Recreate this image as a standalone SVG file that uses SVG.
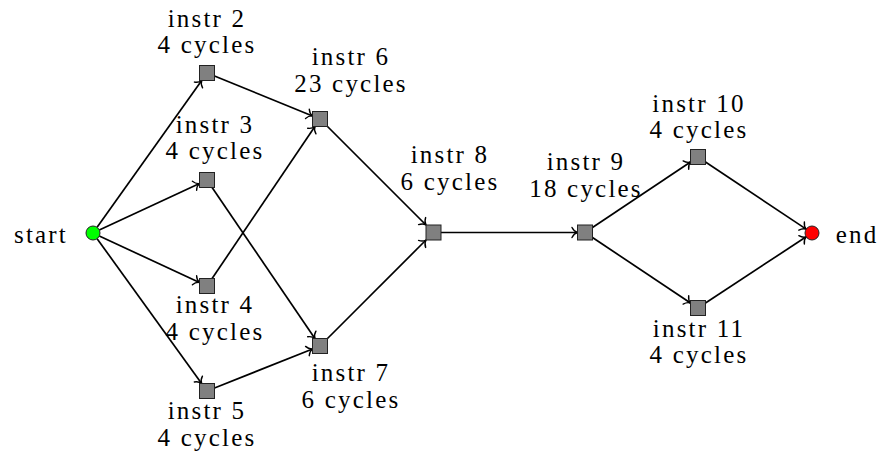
<svg xmlns="http://www.w3.org/2000/svg" width="878" height="455" viewBox="0 0 878 455">
<defs>
<marker id="arr" markerUnits="userSpaceOnUse" markerWidth="12" markerHeight="12" refX="0" refY="0" viewBox="-6 -6 12 12" orient="auto" overflow="visible">
<path d="M -5.5,-5 C -4,-2 -1.5,-0.4 0,0 C -1.5,0.4 -4,2 -5.5,5" fill="none" stroke="#000" stroke-width="1.4" stroke-linecap="round"/>
</marker>
<style>
text{font-family:"Liberation Serif","Times New Roman",serif;font-size:25px;fill:#000;letter-spacing:2.2px;text-anchor:middle}
.sq{fill:#808080;stroke:#222;stroke-width:1}
.cr{stroke:#222;stroke-width:1}
#edges line{stroke:#000;stroke-width:1.7;fill:none;marker-end:url(#arr)}
</style>
</defs>
<rect width="878" height="455" fill="#fff"/>
<g id="edges">
<line x1="97.1" y1="227.3" x2="201.7" y2="80.5"/>
<line x1="99.3" y1="230" x2="199.5" y2="183.5"/>
<line x1="99.3" y1="236" x2="199.5" y2="282.5"/>
<line x1="97.1" y1="238.7" x2="201.6" y2="383.5"/>
<line x1="214.5" y1="76.05" x2="312.5" y2="115.95"/>
<line x1="212.1" y1="187.5" x2="314.9" y2="338.5"/>
<line x1="212.1" y1="278.5" x2="314.9" y2="126.5"/>
<line x1="214.5" y1="388" x2="312.5" y2="349"/>
<line x1="327.5" y1="126.5" x2="426" y2="225"/>
<line x1="327.5" y1="338.5" x2="426" y2="240"/>
<line x1="441" y1="232.5" x2="577.5" y2="232.5"/>
<line x1="592.5" y1="227.5" x2="690.5" y2="162"/>
<line x1="592.5" y1="237.5" x2="690.5" y2="303"/>
<line x1="705.5" y1="162" x2="806.2" y2="229.1"/>
<line x1="705.5" y1="303" x2="806.2" y2="236.8"/>
</g>
<g id="start">
<circle class="cr" cx="93" cy="233" r="7" fill="#00ff00"/>
<text x="41" y="243">start</text>
</g>
<g id="instr2">
<rect class="sq" x="199.5" y="65.5" width="15" height="15"/>
<text x="207" y="27">instr 2</text>
<text x="207" y="53">4 cycles</text>
</g>
<g id="instr3">
<rect class="sq" x="199.5" y="172.5" width="15" height="15"/>
<text x="215" y="133">instr 3</text>
<text x="215" y="159">4 cycles</text>
</g>
<g id="instr4">
<rect class="sq" x="199.5" y="278.5" width="15" height="15"/>
<text x="215" y="313">instr 4</text>
<text x="215" y="340">4 cycles</text>
</g>
<g id="instr5">
<rect class="sq" x="199.5" y="383.5" width="15" height="15"/>
<text x="207" y="419">instr 5</text>
<text x="207" y="446">4 cycles</text>
</g>
<g id="instr6">
<rect class="sq" x="312.5" y="111.5" width="15" height="15"/>
<text x="351" y="65">instr 6</text>
<text x="351" y="92">23 cycles</text>
</g>
<g id="instr7">
<rect class="sq" x="312.5" y="338.5" width="15" height="15"/>
<text x="351" y="381">instr 7</text>
<text x="351" y="408">6 cycles</text>
</g>
<g id="instr8">
<rect class="sq" x="426" y="225" width="15" height="15"/>
<text x="450" y="163">instr 8</text>
<text x="450" y="190">6 cycles</text>
</g>
<g id="instr9">
<rect class="sq" x="577.5" y="225" width="15" height="15"/>
<text x="586" y="170">instr 9</text>
<text x="586" y="197">18 cycles</text>
</g>
<g id="instr10">
<rect class="sq" x="690.5" y="149.5" width="15" height="15"/>
<text x="699" y="112">instr 10</text>
<text x="699" y="138">4 cycles</text>
</g>
<g id="instr11">
<rect class="sq" x="690.5" y="300.5" width="15" height="15"/>
<text x="699" y="337">instr 11</text>
<text x="699" y="363">4 cycles</text>
</g>
<g id="end">
<circle class="cr" cx="812" cy="233" r="7" fill="#ff0000"/>
<text x="857" y="243">end</text>
</g>
</svg>
